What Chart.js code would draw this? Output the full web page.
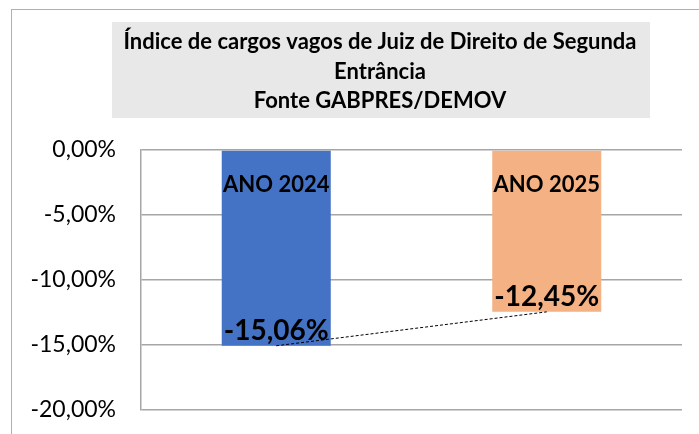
<!DOCTYPE html>
<html>
<head>
<meta charset="utf-8">
<script src="https://cdn.jsdelivr.net/npm/chart.js@4.4.1/dist/chart.umd.min.js"></script>
<style>
html,body{margin:0;padding:0;background:#fff;}
#wrap{width:699px;height:434px;position:relative;}
</style>
</head>
<body>
<div id="wrap"><canvas id="c" width="699" height="434"></canvas></div>
<script>
const categories = ['ANO 2024', 'ANO 2025'];
const values = [-15.06, -12.45];
const valueLabels = ['-15,06%', '-12,45%'];
const barColors = ['#4472c4', '#f4b183'];
const titleLines = ['Índice de cargos vagos de Juiz de Direito de Segunda', 'Entrância', 'Fonte GABPRES/DEMOV'];
const yMin = -20, yMax = 0, yStep = 5;

const FONT = 'Lato, "Open Sans", sans-serif';

const frame = {
  id: 'frame',
  beforeDraw(chart) {
    const ctx = chart.ctx;
    ctx.save();
    ctx.fillStyle = '#ffffff';
    ctx.fillRect(0, 0, chart.width, chart.height);
    ctx.strokeStyle = '#b0b0b0';
    ctx.lineWidth = 1;
    ctx.strokeRect(11.5, 9.5, 1000, 1000);
    ctx.fillStyle = '#e8e8e8';
    ctx.fillRect(112, 22, 538, 96);
    ctx.fillStyle = '#000';
    ctx.textAlign = 'center';
    ctx.textBaseline = 'middle';
    ctx.font = 'bold 22px ' + FONT;
    titleLines.forEach((t, i) => ctx.fillText(t, 380, 42 + i * 29.5));
    ctx.restore();
  }
};

const barText = {
  id: 'barText',
  afterDatasetsDraw(chart) {
    const ctx = chart.ctx;
    const meta = chart.getDatasetMeta(0);
    const ys = chart.scales.y;
    ctx.save();
    ctx.fillStyle = '#000';
    ctx.textAlign = 'center';
    ctx.textBaseline = 'middle';
    meta.data.forEach((bar, i) => {
      ctx.font = 'bold 22px ' + FONT;
      ctx.fillText(categories[i], bar.x, ys.getPixelForValue(0) + 35);
      ctx.font = 'bold 28px ' + FONT;
      ctx.fillText(valueLabels[i], bar.x, bar.y - 15);
    });
    ctx.restore();
  }
};

new Chart(document.getElementById('c'), {
  type: 'bar',
  data: {
    labels: categories,
    datasets: [
      {
        type: 'line',
        data: values,
        borderColor: '#000',
        borderWidth: 1,
        borderDash: [3, 2],
        pointRadius: 0,
        fill: false,
        order: 0
      },
      {
        data: values,
        backgroundColor: barColors,
        barPercentage: 0.403,
        categoryPercentage: 1,
        order: 1
      }
    ]
  },
  options: {
    responsive: false,
    animation: false,
    layout: { padding: { top: 150, left: 0, right: 17, bottom: 24 } },
    plugins: {
      legend: { display: false },
      tooltip: { enabled: false },
      title: { display: false }
    },
    scales: {
      x: {
        display: false,
        offset: true,
        grid: { display: false }
      },
      y: {
        min: yMin,
        max: yMax,
        afterFit(scale) { scale.width = 141; },
        ticks: {
          stepSize: yStep,
          padding: 0,
          color: '#000',
          font: { family: FONT, size: 23 },
          callback: v => v.toFixed(2).replace('.', ',') + '%'
        },
        grid: { color: '#a6a6a6', lineWidth: 1.5, drawTicks: true, tickLength: 25, tickColor: 'rgba(0,0,0,0)' },
        border: { display: true, color: '#a6a6a6', width: 1.5 }
      }
    }
  },
  plugins: [frame, barText]
});
</script>
</body>
</html>
